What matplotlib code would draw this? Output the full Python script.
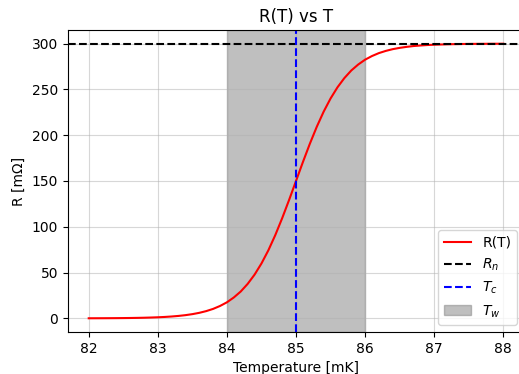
import matplotlib.pyplot as plt
import numpy as np

# values
temps = [82.0, 82.1, 82.2, 82.3, 82.4, 82.5, 82.6, 82.7, 82.8, 82.9,
         83.0, 83.1, 83.2, 83.3, 83.4, 83.5, 83.6, 83.7, 83.8, 83.9,
         84.0, 84.1, 84.2, 84.3, 84.4, 84.5, 84.6, 84.7, 84.8, 84.9,
         85.0, 85.1, 85.2, 85.3, 85.4, 85.5, 85.6, 85.7, 85.8, 85.9,
         86.0, 86.1, 86.2, 86.3, 86.4, 86.5, 86.6, 86.7, 86.8, 86.9,
         87.0, 87.1, 87.2, 87.3, 87.4, 87.5, 87.6, 87.7, 87.8, 87.9, 88.0]
resistance = [0.07, 0.10, 0.13, 0.17, 0.22, 0.29, 0.38, 0.50, 0.66, 0.88,
              1.15, 1.52, 2.01, 2.64, 3.48, 4.58, 6.01, 7.89, 10.3, 13.5,
              17.5, 22.8, 29.3, 37.6, 47.7, 59.9, 74.3, 90.9, 109.4, 129.3,
              150.0, 170.7, 190.6, 209.1, 225.7, 240.1, 252.3, 262.4, 270.7, 277.2,
              282.5, 286.5, 289.7, 292.1, 294.0, 295.4, 296.5, 297.4, 298.0, 298.5,
              298.85, 299.1, 299.34, 299.5, 299.62, 299.7, 299.78, 299.8, 299.88, 299.9, 299.93]
r_normal = 300
t_crit = 85
t_window = (84, 86)

fig = plt.figure(figsize=(5.19, 3.74), dpi=100)
# axes run a bit past the right edge, like the cropped original
ax = fig.add_axes([68 / 519, 1 - 332 / 374, (524 - 68) / 519, (332 - 30) / 374])

ax.grid(True, alpha=0.5, zorder=0)
ax.plot(temps, resistance, color="red", label="R(T)")
ax.axhline(r_normal, color="black", linestyle="--", label="$R_n$")
ax.axvline(t_crit, color="blue", linestyle="--", label="$T_c$")
ax.axvspan(t_window[0], t_window[1], color="gray", alpha=0.5, label="$T_w$")

ax.set_title("R(T) vs T")
ax.set_xlabel("Temperature [mK]")
ax.set_ylabel("R [mΩ]")
ax.legend(loc="lower right")

fig.savefig("out.png", dpi=100)
